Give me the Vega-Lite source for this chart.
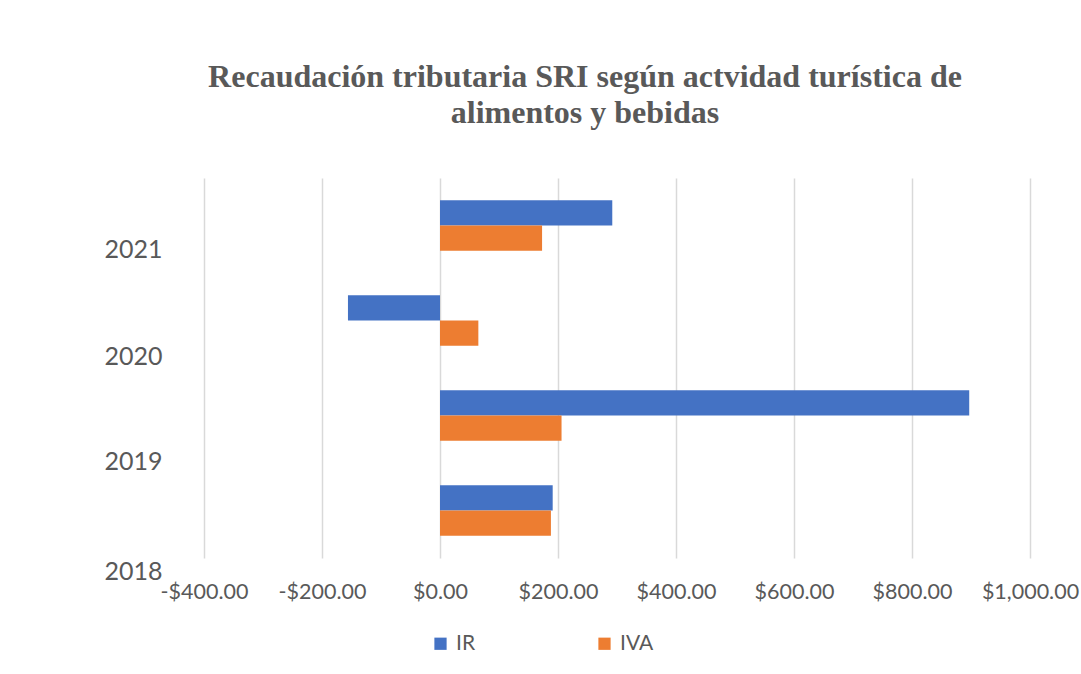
{
  "$schema": "https://vega.github.io/schema/vega-lite/v6.json",
  "autosize": "none",
  "width": 826,
  "height": 380,
  "padding": {"left": 204, "top": 178, "right": 51, "bottom": 116},
  "background": "white",
  "title": {
    "text": ["Recaudación tributaria SRI según actvidad turística de", "alimentos y bebidas"],
    "font": "Liberation Serif",
    "fontWeight": "bold",
    "fontSize": 32,
    "color": "#595959",
    "lineHeight": 36,
    "anchor": "middle",
    "dx": -32,
    "offset": 48
  },
  "data": {
    "values": [
      {"year": "2018", "series": "IR", "value": 191},
      {"year": "2018", "series": "IVA", "value": 188},
      {"year": "2019", "series": "IR", "value": 897},
      {"year": "2019", "series": "IVA", "value": 206},
      {"year": "2020", "series": "IR", "value": -156},
      {"year": "2020", "series": "IVA", "value": 65},
      {"year": "2021", "series": "IR", "value": 292},
      {"year": "2021", "series": "IVA", "value": 173}
    ]
  },
  "mark": {"type": "bar"},
  "encoding": {
    "y": {
      "field": "year",
      "type": "nominal",
      "scale": {"domain": ["2021", "2020", "2019", "2018"], "paddingInner": 0.47, "paddingOuter": 0.235},
      "axis": {
        "title": null,
        "domain": false,
        "ticks": false,
        "grid": false,
        "labelFont": "Lato",
        "labelFontSize": 25,
        "labelColor": "#595959",
        "labelPadding": 42,
        "labelOffset": {
          "condition": [
            {"test": "datum.value == '2021'", "value": 24},
            {"test": "datum.value == '2020'", "value": 36},
            {"test": "datum.value == '2019'", "value": 46}
          ],
          "value": 61
        }
      }
    },
    "yOffset": {"field": "series", "type": "nominal", "scale": {"domain": ["IR", "IVA"], "paddingInner": 0, "paddingOuter": 0}},
    "x": {
      "field": "value",
      "type": "quantitative",
      "scale": {"domain": [-400, 1000], "nice": false, "zero": true},
      "axis": {
        "title": null,
        "values": [-400, -200, 0, 200, 400, 600, 800, 1000],
        "labelExpr": "(datum.value < 0 ? '-' : '') + '$' + format(abs(datum.value), ',.2f')",
        "domain": false,
        "ticks": false,
        "grid": true,
        "gridColor": "#d9d9d9",
        "gridWidth": 1.5,
        "labelFont": "Lato",
        "labelFontSize": 21.5,
        "labelColor": "#595959",
        "labelPadding": 23,
        "labelFlush": false
      }
    },
    "color": {
      "field": "series",
      "type": "nominal",
      "scale": {"domain": ["IR", "IVA"], "range": ["#4472C4", "#ED7D31"]},
      "legend": {
        "title": null,
        "orient": "none",
        "direction": "horizontal",
        "legendX": 226,
        "legendY": 455,
        "symbolType": "square",
        "symbolSize": 150,
        "symbolStrokeWidth": 0,
        "labelFont": "Lato",
        "labelFontSize": 21,
        "labelColor": "#595959",
        "labelOffset": 5,
        "columnPadding": 118
      }
    }
  },
  "config": {"view": {"stroke": null}}
}
